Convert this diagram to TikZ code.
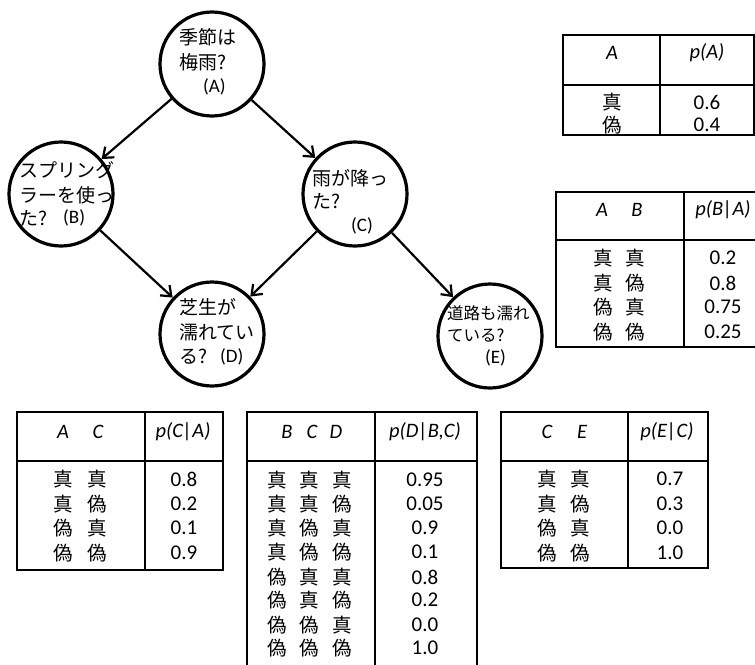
\documentclass[tikz,border=0pt]{standalone}
\usepackage{fontspec}
\setmainfont{Carlito}
\newfontfamily\jp{Noto Sans CJK JP}
\usetikzlibrary{arrows.meta}
\begin{document}
\begin{tikzpicture}[x=1pt,y=-1pt,
  bnode/.style={circle, draw, line width=3.2pt, minimum size=104pt, inner sep=0pt},
  lbl/.style={anchor=west, inner sep=0pt, font=\fontsize{19}{21}\selectfont},
  lbls/.style={anchor=west, inner sep=0pt, font=\fontsize{16.5}{18}\selectfont},
  cell/.style={inner sep=0pt, font=\fontsize{21}{23}\selectfont},
  jcell/.style={inner sep=0pt, font=\fontsize{19.5}{21}\selectfont\jp},
  hcell/.style={inner sep=0pt, font=\fontsize{20.5}{22}\selectfont\itshape},
  arr/.style={line width=2.2pt, -{Straight Barb[length=9pt,width=14pt,line width=2.2pt]}},
  tline/.style={line width=2.2pt}]
\clip (0,0) rectangle (755,664);
\fill[white] (0,0) rectangle (755,664);

% Bayesian network nodes
\node[bnode] (A) at (212,64) {};
\node[bnode] (B) at (61,194) {};
\node[bnode] (C) at (355,194) {};
\node[bnode] (D) at (212,334) {};
\node[bnode] (E) at (490,336) {};

% node texts
\node[lbl] (A1) at (179,37) {\jp 季節は};
\node[lbl] (A2) at (179,62) {\jp 梅雨?};
\node[lbl] (A3) at (203,87) {(A)};
\node[lbl] (B1) at (19,170) {\jp スプリング};
\node[lbl] (B2) at (19,195) {\jp ラーを使っ};
\node[lbl] (B3) at (19,218) {\jp た?};
\node[lbl] (B4) at (63,218) {(B)};
\node[lbl] (C1) at (312,178) {\jp 雨が降っ};
\node[lbl] (C2) at (312,201) {\jp た?};
\node[lbl] (C3) at (351,226) {(C)};
\node[lbl] (D1) at (179,307) {\jp 芝生が};
\node[lbl] (D2) at (179,332) {\jp 濡れてい};
\node[lbl] (D3) at (179,357) {\jp る?};
\node[lbl] (D4) at (220,357) {(D)};
\node[lbls] (E1) at (447,313) {\jp 道路も濡れ};
\node[lbls] (E2) at (447,336) {\jp ている?};
\node[lbl] (E3) at (485,358) {(E)};

% arrows
\draw[arr] (A) -- (B);
\draw[arr] (A) -- (C);
\draw[arr] (B) -- (D);
\draw[arr] (C) -- (D);
\draw[arr] (C) -- (E);

% Table p(A)
\draw[tline] (563,35) rectangle (754,135);
\draw[tline] (563,85) -- (754,85);
\draw[tline] (660,35) -- (660,135);
\node[hcell] (tAh1) at (612,53) {A};
\node[hcell] (tAh2) at (707,53) {p(A)};
\node[jcell] (tAr1) at (612,102) {真};
\node[jcell] (tAr2) at (612,125) {偽};
\node[cell] (tAv1) at (707,102) {0.6};
\node[cell] (tAv2) at (707,125) {0.4};

% Table p(B|A)
\draw[tline] (556,192) rectangle (770,347);
\draw[tline] (556,240) -- (770,240);
\draw[tline] (684,192) -- (684,347);
\node[hcell] (tBh1) at (602,210) {A};
\node[hcell] (tBh2) at (637,210) {B};
\node[hcell] (tBh3) at (723,210) {p(B|A)};
\foreach \y/\a/\b/\v [count=\i] in {258/真/真/0.2, 283/真/偽/0.8, 307/偽/真/0.75, 332/偽/偽/0.25}{
  \node[jcell] (tBa\i) at (603,\y) {\a};
  \node[jcell] (tBb\i) at (635,\y) {\b};
  \node[cell] (tBv\i) at (723,\y) {\v};
}

% Table p(C|A)
\draw[tline] (17,412) rectangle (223,570);
\draw[tline] (17,461) -- (223,461);
\draw[tline] (145,412) -- (145,570);
\node[hcell] (tCh1) at (63,432) {A};
\node[hcell] (tCh2) at (98,432) {C};
\node[hcell] (tCh3) at (183,432) {p(C|A)};
\foreach \y/\a/\b/\v [count=\i] in {479/真/真/0.8, 504/真/偽/0.2, 528/偽/真/0.1, 553/偽/偽/0.9}{
  \node[jcell] (tCa\i) at (63,\y) {\a};
  \node[jcell] (tCb\i) at (97,\y) {\b};
  \node[cell] (tCv\i) at (184,\y) {\v};
}

% Table p(D|B,C)
\draw[tline] (247,680) -- (247,412) -- (477,412) -- (477,680);
\draw[tline] (247,461) -- (477,461);
\draw[tline] (375,412) -- (375,680);
\node[hcell] (tDh1) at (287,432) {B};
\node[hcell] (tDh2) at (312,432) {C};
\node[hcell] (tDh3) at (336,432) {D};
\node[hcell] (tDh4) at (425,432) {p(D|B,C)};
\foreach \y/\a/\b/\c/\v [count=\i] in {480/真/真/真/0.95, 504/真/真/偽/0.05, 528/真/偽/真/0.9, 552/真/偽/偽/0.1, 577/偽/真/真/0.8, 600/偽/真/偽/0.2, 625/偽/偽/真/0.0, 648/偽/偽/偽/1.0}{
  \node[jcell] (tDa\i) at (277,\y) {\a};
  \node[jcell] (tDb\i) at (309,\y) {\b};
  \node[jcell] (tDc\i) at (342,\y) {\c};
  \node[cell] (tDv\i) at (425,\y) {\v};
}

% Table p(E|C)
\draw[tline] (501,412) rectangle (708,568);
\draw[tline] (501,461) -- (708,461);
\draw[tline] (628,412) -- (628,568);
\node[hcell] (tEh1) at (547,432) {C};
\node[hcell] (tEh2) at (582,432) {E};
\node[hcell] (tEh3) at (667,432) {p(E|C)};
\foreach \y/\a/\b/\v [count=\i] in {479/真/真/0.7, 504/真/偽/0.3, 528/偽/真/0.0, 553/偽/偽/1.0}{
  \node[jcell] (tEa\i) at (547,\y) {\a};
  \node[jcell] (tEb\i) at (580,\y) {\b};
  \node[cell] (tEv\i) at (670,\y) {\v};
}
\end{tikzpicture}
\end{document}
